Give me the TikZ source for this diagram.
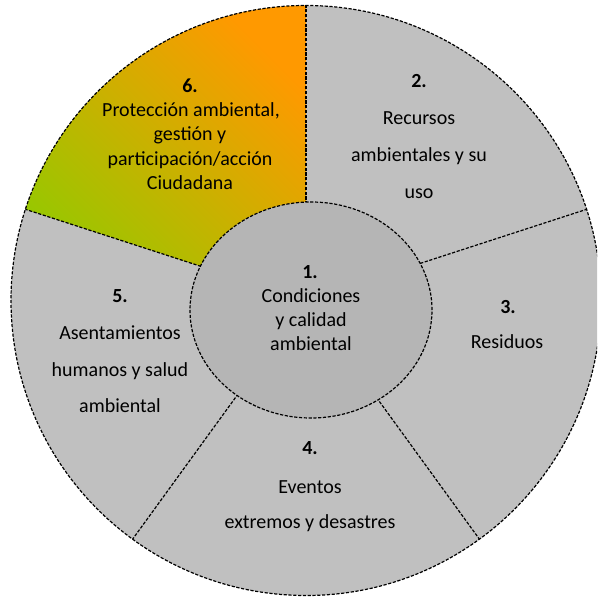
\documentclass[tikz,border=0pt]{standalone}
\usepackage{fontspec}
\setmainfont{Carlito}
\definecolor{outerfill}{RGB}{192,192,192}
\definecolor{innerfill}{RGB}{181,181,181}
\definecolor{orng}{RGB}{255,153,0}
\definecolor{grn}{RGB}{150,200,0}
\begin{document}
\begin{tikzpicture}[x=1pt,y=1pt,
  dashline/.style={draw=black, line width=1.2pt, dash pattern=on 3.2pt off 1.6pt},
  lbl/.style={anchor=base, inner sep=0pt, font=\fontsize{20}{24}\selectfont},
  num/.style={anchor=base, inner sep=0pt, font=\fontsize{20}{24}\selectfont\bfseries}]
\useasboundingbox (0,0) rectangle (597,599);
\clip (0,0) rectangle (597,599);
\coordinate (O) at (306,298.5);
\coordinate (I) at (311,289);
% outer disc
\fill[outerfill] (O) circle[radius=295];
% sector 6 gradient
\shade[top color=orng, bottom color=grn, shading angle=-45]
  (O) -- ++(90:295) arc[start angle=90, end angle=162, radius=295] -- cycle;
% radial separators
\foreach \a in {90,18,-54,-126,162} \draw[dashline] (O) -- ++(\a:295);
% outer border
\draw[dashline] (O) circle[radius=295];
% inner ellipse
\draw[dashline, fill=innerfill] (I) ellipse[x radius=121, y radius=108];
% sector 6
\node[num] (n6) at (190,506) {6.};
\node[lbl] (t6a) at (191,482) {Protección ambiental,};
\node[lbl] (t6b) at (190,458) {gestión y};
\node[lbl] (t6c) at (190,433) {participación/acción};
\node[lbl] (t6d) at (190,409) {Ciudadana};
% sector 2
\node[num] (n2) at (419,511) {2.};
\node[lbl] (t2a) at (419,474) {Recursos};
\node[lbl] (t2b) at (419,437) {ambientales y su};
\node[lbl] (t2c) at (419,400) {uso};
% sector 3
\node[num] (n3) at (508,285) {3.};
\node[lbl] (t3a) at (507,250) {Residuos};
% sector 4
\node[num] (n4) at (310,144) {4.};
\node[lbl] (t4a) at (310,105) {Eventos};
\node[lbl] (t4b) at (310,70) {extremos y desastres};
% sector 5
\node[num] (n5) at (120,296) {5.};
\node[lbl] (t5a) at (120,259) {Asentamientos};
\node[lbl] (t5b) at (120,222) {humanos y salud};
\node[lbl] (t5c) at (120,186) {ambiental};
% center 1
\node[num] (n1) at (310,320) {1.};
\node[lbl] (t1a) at (311,296) {Condiciones};
\node[lbl] (t1b) at (311,272) {y calidad};
\node[lbl] (t1c) at (311,248) {ambiental};
\end{tikzpicture}
\end{document}
